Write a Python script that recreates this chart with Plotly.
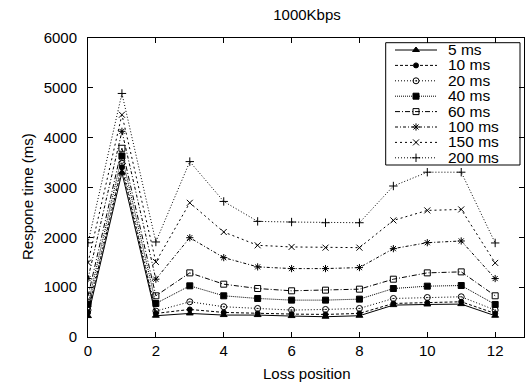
import plotly.graph_objects as go

# ---- data ----
loss_position = list(range(13))
series_names = ["5 ms", "10 ms", "20 ms", "40 ms", "60 ms", "100 ms", "150 ms", "200 ms"]
rt_5 = [420, 3300, 427, 473, 440, 440, 420, 407, 427, 640, 653, 660, 427]
rt_10 = [487, 3407, 473, 553, 493, 473, 460, 453, 473, 673, 687, 707, 473]
rt_20 = [540, 3487, 520, 707, 607, 573, 540, 553, 573, 773, 793, 807, 540]
rt_40 = [660, 3633, 673, 1027, 827, 773, 740, 740, 760, 973, 1020, 1033, 653]
rt_60 = [820, 3787, 827, 1287, 1060, 973, 927, 940, 960, 1160, 1287, 1307, 827]
rt_100 = [1173, 4127, 1160, 1993, 1593, 1407, 1373, 1373, 1393, 1773, 1893, 1927, 1173]
rt_150 = [1493, 4460, 1507, 2693, 2107, 1840, 1807, 1793, 1793, 2340, 2540, 2560, 1487]
rt_200 = [1890, 4887, 1907, 3520, 2720, 2320, 2307, 2293, 2293, 3030, 3307, 3307, 1887]
series_values = [rt_5, rt_10, rt_20, rt_40, rt_60, rt_100, rt_150, rt_200]
x_ticks = [0, 2, 4, 6, 8, 10, 12]
y_ticks = [0, 1000, 2000, 3000, 4000, 5000, 6000]

# ---- styles ----
dashes = ["solid", "3px,2px", "1px,2px", "1px,1px", "5px,2px,1px,2px",
          "3px,2px,1px,2px", "2px,3px", "1px,2px"]
symbols = ["triangle-up", "circle", "circle-open-dot", "square", "square-open",
           "asterisk-open", "x-thin-open", "cross-thin-open"]
msizes = [6, 5, 6, 6, 6, 6, 6, 6]
FONT = "Liberation Sans, Arial, sans-serif"
FS = 15

fig = go.Figure()
for name, vals, d, s, ms in zip(series_names, series_values, dashes, symbols, msizes):
    fig.add_trace(go.Scatter(
        x=loss_position, y=vals, name=name, mode="lines+markers",
        line=dict(color="black", width=1, dash=d),
        marker=dict(symbol=s, size=ms, color="black",
                    line=dict(color="black", width=1)),
        showlegend=False,
    ))

# ---- hand-built legend (paper-like overlay axes) ----
L, R, T, B = 88, 524, 38, 337
W, H = R - L, B - T
def px(v): return (v - L) / W
def py(v): return (B - v) / H

ROW0, ROWGAP = 50, 15.4
box = dict(x0=px(385.7), x1=px(520), y0=py(165), y1=py(42.7))
fig.add_shape(type="rect", xref="paper", yref="paper", **box,
              line=dict(color="black", width=1), fillcolor="white", layer="below")
for i, (name, d, s, ms) in enumerate(zip(series_names, dashes, symbols, msizes)):
    yy = py(ROW0 + ROWGAP * i)
    fig.add_trace(go.Scatter(
        x=[px(395), px(437)], y=[yy, yy], mode="lines", xaxis="x2", yaxis="y2",
        line=dict(color="black", width=1, dash=d), showlegend=False, hoverinfo="skip"))
    fig.add_trace(go.Scatter(
        x=[px(416)], y=[yy], mode="markers", xaxis="x2", yaxis="y2",
        marker=dict(symbol=s, size=ms, color="black", line=dict(color="black", width=1)),
        showlegend=False, hoverinfo="skip"))

# legend labels: one multi-line text; outer size sets line pitch (1.3 em), inner span sets glyph size
legend_text = "<br>".join('<span style="font-size:15.5px">%s</span>' % n for n in series_names)
fig.add_annotation(x=px(445.5), y=py(ROW0 + ROWGAP * 3.5), xref="paper", yref="paper",
                   text=legend_text, showarrow=False, xanchor="left", yanchor="middle",
                   align="left", font=dict(family=FONT, size=ROWGAP / 1.3, color="black"))

axis_common = dict(showgrid=False, zeroline=False, showline=True, linecolor="black",
                   linewidth=1, mirror="ticks", ticks="inside", ticklen=5,
                   tickcolor="black", tickfont=dict(family=FONT, size=FS, color="black"))
fig.update_layout(
    width=526, height=382,
    margin=dict(l=L, r=526 - R, t=T, b=382 - B),
    paper_bgcolor="white", plot_bgcolor="white",
    xaxis=dict(range=[0, 12.85], tickvals=x_ticks, **axis_common),
    yaxis=dict(range=[0, 6000], tickvals=y_ticks, ticklabelstandoff=7, **axis_common),
    xaxis2=dict(overlaying="x", range=[0, 1], visible=False),
    yaxis2=dict(overlaying="y", range=[0, 1], visible=False),
    title=dict(text="1000Kbps", x=307 / 526, xanchor="center",
               y=1 - 15 / 382, yanchor="middle", yref="container",
               font=dict(family=FONT, size=FS, color="black")),
    showlegend=False,
)
fig.add_annotation(text="Loss position", xref="paper", yref="paper",
                   x=px(307), y=py(373), showarrow=False, xanchor="center", yanchor="middle",
                   font=dict(family=FONT, size=FS, color="black"))
fig.add_annotation(text="Respone time (ms)", xref="paper", yref="paper",
                   x=px(27), y=py(197), showarrow=False, textangle=-90,
                   xanchor="center", yanchor="middle",
                   font=dict(family=FONT, size=FS, color="black"))

fig.write_html("out.html")
